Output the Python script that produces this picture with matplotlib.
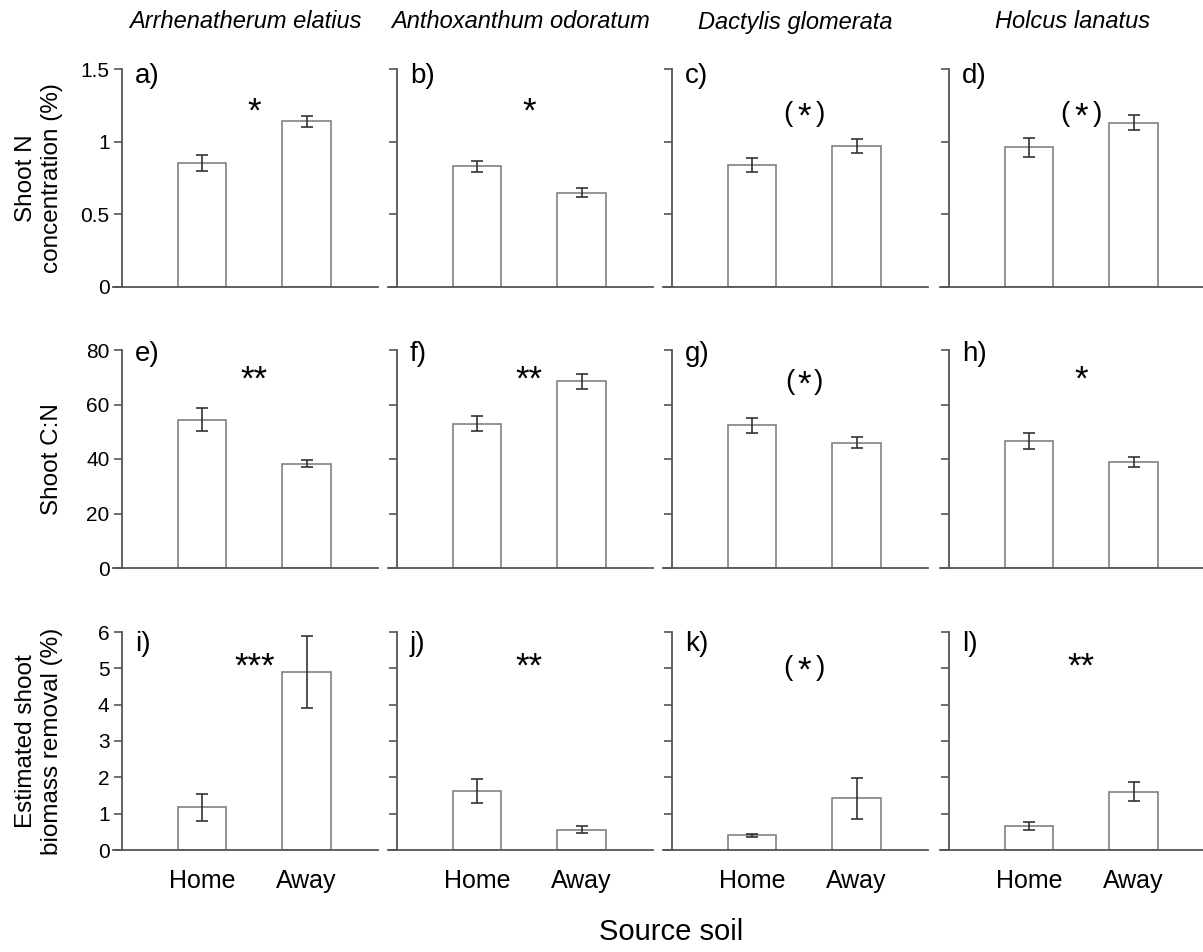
import matplotlib
matplotlib.use("Agg")
import matplotlib.pyplot as plt

plt.rcParams['font.family'] = ['Liberation Sans', 'DejaVu Sans']

# species (columns) and source soil (x categories)
species = ["Arrhenatherum elatius", "Anthoxanthum odoratum",
           "Dactylis glomerata", "Holcus lanatus"]
soil = ["Home", "Away"]
letters = [["a)", "b)", "c)", "d)"],
           ["e)", "f)", "g)", "h)"],
           ["i)", "j)", "k)", "l)"]]

# shoot N concentration (%), mean and SE per species [home, away]
shoot_n = [[0.85, 1.14], [0.83, 0.65], [0.84, 0.97], [0.96, 1.13]]
shoot_n_se = [[0.055, 0.036], [0.04, 0.033], [0.05, 0.045], [0.065, 0.052]]

# shoot C:N
shoot_cn = [[54.4, 38.2], [53.0, 68.5], [52.3, 46.0], [46.6, 38.8]]
shoot_cn_se = [[4.3, 1.3], [2.9, 2.7], [2.6, 1.9], [2.8, 1.9]]

# estimated shoot biomass removal (%)
removal = [[1.18, 4.9], [1.63, 0.56], [0.40, 1.42], [0.66, 1.61]]
removal_se = [[0.37, 1.0], [0.33, 0.1], [0.05, 0.56], [0.12, 0.27]]

# significance labels
sig = [["*", "*", "( * )", "( * )"],
       ["**", "**", "(*)", "*"],
       ["***", "**", "( * )", "**"]]

row_means = [shoot_n, shoot_cn, removal]
row_ses = [shoot_n_se, shoot_cn_se, removal_se]
row_ylim = [1.5, 80, 6]
row_ticks = [[0, 0.5, 1, 1.5], [0, 20, 40, 60, 80], [0, 1, 2, 3, 4, 5, 6]]
row_ticklabels = [["0", "0.5", "1", "1.5"], ["0", "20", "40", "60", "80"],
                  ["0", "1", "2", "3", "4", "5", "6"]]
row_ylabels = ["Shoot N\nconcentration (%)", "Shoot C:N",
               "Estimated shoot\nbiomass removal (%)"]
ylabel_x = [-0.28, -0.23, -0.28]
star_y = [0.80, 0.86, 0.84]
letter_y = [0.97, 0.98, 0.945]

W, H = 1203, 952
fig = plt.figure(figsize=(W / 100, H / 100), dpi=100)

col_left = [113, 388, 663, 940]
row_bottom = [287, 568, 850]
ax_w, ax_h = 265, 218

spine_col = "#555555"
x = [1, 2]

for r in range(3):
    for c in range(4):
        ax = fig.add_axes([col_left[c] / W, 1 - row_bottom[r] / H, ax_w / W, ax_h / H])
        ax.bar(x, row_means[r][c], width=0.46, color="white",
               edgecolor="#777777", linewidth=1.1, zorder=2)
        ax.errorbar(x, row_means[r][c], yerr=row_ses[r][c], fmt="none",
                    ecolor="#333333", elinewidth=1.2, capsize=4.5,
                    capthick=1.2, zorder=3)
        ax.set_xlim(0.148, 2.684)
        ax.set_ylim(0, row_ylim[r])

        for s in ["top", "right"]:
            ax.spines[s].set_visible(False)
        ax.spines["left"].set_position(("axes", 0.034))
        for s in ["left", "bottom"]:
            ax.spines[s].set_color(spine_col)
            ax.spines[s].set_linewidth(1.3)

        ax.set_yticks(row_ticks[r])
        ax.tick_params(axis="y", direction="out", length=6, width=1.2,
                       color=spine_col, labelsize=15, pad=3)
        if c == 0:
            ax.set_yticklabels(row_ticklabels[r])
            ax.text(ylabel_x[r], 0.5, row_ylabels[r], transform=ax.transAxes,
                    rotation=90, ha="center", va="center", fontsize=17.5,
                    linespacing=1.25)
        else:
            ax.set_yticklabels([])

        ax.set_xticks(x)
        ax.tick_params(axis="x", length=0, labelsize=18, pad=14)
        if r == 2:
            ax.set_xticklabels(soil)
        else:
            ax.set_xticklabels([])

        ax.text(0.083, letter_y[r], letters[r][c], transform=ax.transAxes,
                ha="left", va="center", fontsize=20)

        label = sig[r][c]
        sy = star_y[r] * row_ylim[r]
        if "(" in label:
            # brackets either side of a full-size star
            off = 12 if " " in label else 10
            ax.annotate("(", (1.5, sy), xytext=(-off, -1),
                        textcoords="offset points", ha="center",
                        va="center", fontsize=20)
            ax.annotate(")", (1.5, sy), xytext=(off, -1),
                        textcoords="offset points", ha="center",
                        va="center", fontsize=20)
            ax.annotate(label.strip("() "), (1.5, sy), xytext=(0, -3),
                        textcoords="offset points", ha="center",
                        va="center", fontsize=25)
        else:
            ax.text(1.5, sy, label, ha="center", va="center", fontsize=25)

        if r == 0:
            fig.text((col_left[c] + ax_w / 2) / W, 1 - 22 / H, species[c],
                     ha="center", va="center", fontsize=17, style="italic")

fig.text(0.558, 0.021, "Source soil", ha="center", va="center", fontsize=21)

fig.savefig("out.png", dpi=100)
